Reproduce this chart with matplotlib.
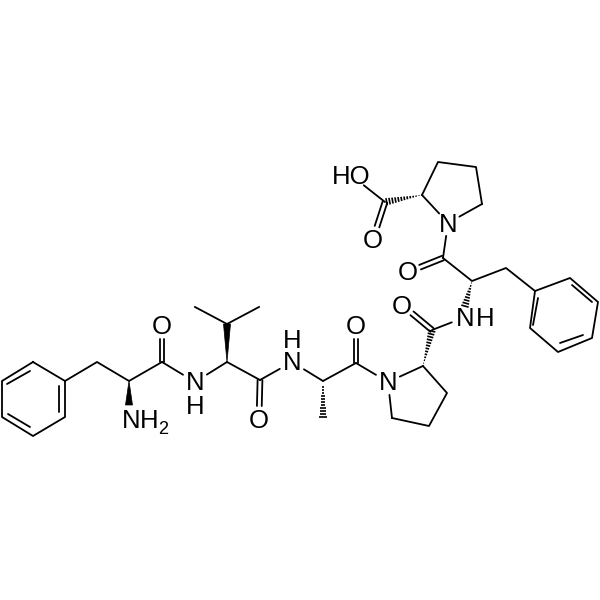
import numpy as np
import matplotlib.pyplot as plt

plt.rcParams['font.family'] = ['Liberation Sans', 'DejaVu Sans']

# Atom positions, in pixels
phe1_ring = [(33, 362), (65, 381), (65, 417), (33, 436), (2, 417), (2, 381)]
phe1_chain = [(65, 381), (97, 362), (129, 381), (162, 362)]
val_chain = [(227, 362), (260, 380)]
val_top = [(195, 307), (227, 324), (259, 307)]
pro1_ring = [(388, 382), (423, 366), (447, 393), (429, 426), (392, 418)]
pro2_ring = [(448, 223), (422, 195), (438, 162), (476, 167), (482, 204)]
phe2_ring = [(535, 291), (570, 278), (598, 302), (592, 338), (558, 352), (530, 328)]
phe2_chain = [(443, 258), (472, 281), (506, 268), (535, 291)]

# plain bonds with a gap at the labelled end (start, end, gap at start, gap at end)
hetero_bonds = [
    ((162, 362), (195, 382), 0, 14),
    ((195, 382), (227, 362), 14, 0),
    ((260, 380), (292, 362), 0, 14),
    ((292, 362), (323, 381), 14, 0),
    ((323, 381), (356, 363), 0, 0),
    ((356, 363), (388, 382), 0, 14),
    ((432, 330), (463, 318), 0, 12),
    ((385, 202), (352, 176), 0, 15),
    ((448, 223), (443, 258), 13, 0),
]
# double bonds C=O
carbonyls = [
    ((162, 362), (162, 326)),
    ((260, 380), (259, 419)),
    ((356, 363), (356, 326)),
    ((432, 330), (402, 305)),
    ((385, 202), (373, 239)),
    ((443, 258), (408, 272)),
]
solid_wedges = [((129, 381), (129, 405)), ((227, 362), (227, 324))]
hashed_wedges = [
    ((323, 381), (323, 418)),
    ((423, 366), (432, 330)),
    ((422, 195), (385, 202)),
    ((472, 281), (465, 306)),
]
# inner lines of the two benzene rings
inner_lines = [
    ((7, 384), (30, 371)),
    ((59, 386), (59, 412)),
    ((8, 414), (30, 427)),
    ((538, 298), (533, 325)),
    ((572, 285), (592, 302)),
    ((560, 343), (583, 335)),
]
# label, x, y
labels = [
    ('O', 162, 325), ('N', 195, 381), ('H', 195, 404), ('O', 259, 418),
    ('N', 292, 361), ('H', 292, 339), ('O', 356, 325), ('N', 388, 381),
    ('O', 402, 304), ('N', 465, 317), ('H', 485, 317), ('O', 408, 271),
    ('N', 448, 222), ('O', 373, 238), ('HO', 351, 175),
    ('N', 131, 418), ('H', 149, 418),
]
sub_label = ('2', 163, 427)

LW = 1.3
GAP = 13


def shorten(p, q, gap_p, gap_q):
    p, q = np.array(p, float), np.array(q, float)
    u = (q - p) / np.hypot(*(q - p))
    return p + u * gap_p, q - u * gap_q


def line(ax, p, q):
    ax.plot([p[0], q[0]], [p[1], q[1]], color='k', lw=LW, solid_capstyle='round')


fig = plt.figure(figsize=(6, 6), dpi=100)
ax = fig.add_axes([0, 0, 1, 1])
ax.set_xlim(0, 600)
ax.set_ylim(600, 0)
ax.axis('off')

for ring in [phe1_ring, pro1_ring[1:], pro2_ring[1:], phe2_ring]:
    closed = ring + [ring[0]] if len(ring) == 6 else ring
    ax.plot(*zip(*closed), color='k', lw=LW, solid_joinstyle='round')
for chain in [phe1_chain, val_chain, val_top, phe2_chain]:
    ax.plot(*zip(*chain), color='k', lw=LW, solid_joinstyle='round')

# ring bonds that end at a ring nitrogen
for ring in [pro1_ring, pro2_ring]:
    for other in (ring[1], ring[-1]):
        p, q = shorten(ring[0], other, GAP, 0)
        line(ax, p, q)

for a, b, ga, gb in hetero_bonds:
    p, q = shorten(a, b, ga, gb)
    line(ax, p, q)

for a, b in carbonyls:
    p, q = shorten(a, b, 0, GAP)
    u = (q - p) / np.hypot(*(q - p))
    n = np.array([-u[1], u[0]]) * 2.4
    line(ax, p + n, q + n)
    line(ax, p - n, q - n)

for a, b in solid_wedges:
    a, b = np.array(a, float), np.array(b, float)
    u = (b - a) / np.hypot(*(b - a))
    n = np.array([-u[1], u[0]]) * 3.5
    ax.fill(*zip(a, b + n, b - n), color='k', lw=0.5)

for a, b in hashed_wedges:
    a, b = np.array(a, float), np.array(b, float)
    length = np.hypot(*(b - a))
    u = (b - a) / length
    n = np.array([-u[1], u[0]])
    for t in np.arange(0.08, 1.01, 3.0 / length):
        c = a + u * length * t
        line_half = 3.8 * t
        ax.plot(*zip(c + n * line_half, c - n * line_half), color='k', lw=1.2,
                solid_capstyle='butt')

for a, b in inner_lines:
    line(ax, a, b)

for txt, x, y in labels:
    ax.text(x, y, txt, fontsize=18.5, ha='center', va='center_baseline', color='k')
ax.text(sub_label[1], sub_label[2], sub_label[0], fontsize=13, ha='center',
        va='center_baseline', color='k')

fig.savefig('out.png', dpi=100, facecolor='white')
